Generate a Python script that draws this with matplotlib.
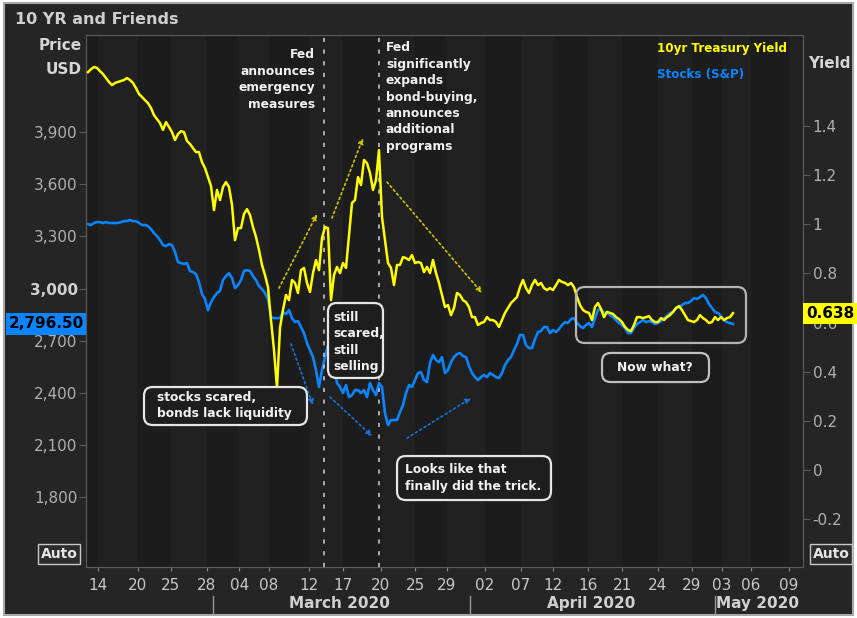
import numpy as np
import matplotlib.pyplot as plt
from matplotlib.patches import FancyBboxPatch, Rectangle
from matplotlib.transforms import blended_transform_factory

# samples are on a regular grid in trading days counted from Fri Feb 14 2020
t_start = -0.797
t_step = 0.2657

spx = [3371, 3365, 3377, 3382, 3382, 3377, 3382, 3377, 3377, 3377,
       3377, 3382, 3388, 3388, 3394, 3388, 3388, 3377, 3365, 3365,
       3359, 3342, 3319, 3302, 3279, 3250, 3244, 3256, 3250, 3210,
       3152, 3147, 3141, 3147, 3101, 3095, 3083, 3037, 2968, 2940,
       2876, 2922, 2951, 2974, 2986, 3049, 3072, 3089, 3060, 3003,
       3020, 3049, 3101, 3106, 3101, 3072, 3049, 3014, 2997, 2974,
       2940, 2836, 2830, 2830, 2830, 2865, 2853, 2876, 2830, 2807,
       2813, 2779, 2744, 2687, 2646, 2606, 2531, 2434, 2531, 2606,
       2675, 2629, 2549, 2457, 2434, 2399, 2445, 2376, 2387, 2416,
       2416, 2399, 2416, 2376, 2457, 2416, 2387, 2457, 2434, 2284,
       2215, 2244, 2244, 2244, 2290, 2330, 2399, 2445, 2434, 2474,
       2514, 2520, 2474, 2462, 2572, 2618, 2589, 2577, 2606, 2514,
       2531, 2577, 2606, 2623, 2629, 2612, 2606, 2554, 2514, 2491,
       2474, 2491, 2503, 2491, 2514, 2503, 2491, 2485, 2514, 2560,
       2589, 2606, 2646, 2681, 2733, 2733, 2675, 2658, 2658, 2710,
       2750, 2756, 2779, 2779, 2744, 2761, 2750, 2767, 2790, 2807,
       2802, 2825, 2830, 2802, 2784, 2773, 2790, 2802, 2779, 2830,
       2876, 2882, 2859, 2865, 2848, 2836, 2819, 2802, 2790, 2773,
       2744, 2744, 2773, 2796, 2807, 2819, 2807, 2813, 2807, 2796,
       2802, 2813, 2830, 2842, 2859, 2865, 2888, 2894, 2905, 2917,
       2917, 2928, 2945, 2940, 2951, 2963, 2945, 2911, 2888, 2865,
       2859, 2842, 2819, 2807, 2802, 2796.50]

yld = [1.618, 1.630, 1.639, 1.635, 1.622, 1.610, 1.594, 1.578, 1.565, 1.574,
       1.578, 1.582, 1.586, 1.594, 1.586, 1.574, 1.553, 1.529, 1.517, 1.504,
       1.492, 1.472, 1.443, 1.427, 1.411, 1.383, 1.415, 1.395, 1.374, 1.342,
       1.366, 1.378, 1.374, 1.338, 1.326, 1.309, 1.293, 1.293, 1.252, 1.228,
       1.191, 1.155, 1.057, 1.139, 1.098, 1.151, 1.171, 1.151, 1.078, 0.935,
       0.984, 0.984, 1.041, 1.061, 1.037, 0.988, 0.948, 0.895, 0.834, 0.793,
       0.744, 0.610, 0.488, 0.334, 0.578, 0.651, 0.712, 0.691, 0.773, 0.761,
       0.720, 0.813, 0.822, 0.761, 0.724, 0.801, 0.854, 0.813, 0.943, 0.988,
       0.984, 0.691, 0.793, 0.826, 0.801, 0.842, 0.822, 0.956, 1.086, 1.098,
       1.191, 1.159, 1.261, 1.248, 1.208, 1.139, 1.179, 1.301, 1.029, 0.935,
       0.842, 0.822, 0.752, 0.834, 0.834, 0.866, 0.862, 0.854, 0.874, 0.842,
       0.846, 0.842, 0.805, 0.826, 0.801, 0.854, 0.801, 0.761, 0.712, 0.663,
       0.671, 0.630, 0.659, 0.720, 0.712, 0.691, 0.683, 0.663, 0.622, 0.622,
       0.590, 0.598, 0.602, 0.622, 0.610, 0.610, 0.602, 0.582, 0.610, 0.639,
       0.659, 0.679, 0.691, 0.704, 0.744, 0.773, 0.740, 0.720, 0.752, 0.773,
       0.752, 0.761, 0.740, 0.732, 0.740, 0.732, 0.752, 0.773, 0.765, 0.761,
       0.752, 0.761, 0.744, 0.704, 0.671, 0.651, 0.643, 0.639, 0.610, 0.663,
       0.679, 0.655, 0.622, 0.643, 0.639, 0.635, 0.622, 0.614, 0.602, 0.582,
       0.570, 0.565, 0.590, 0.622, 0.622, 0.618, 0.622, 0.626, 0.610, 0.602,
       0.602, 0.618, 0.610, 0.622, 0.630, 0.643, 0.659, 0.667, 0.651, 0.630,
       0.610, 0.606, 0.602, 0.610, 0.630, 0.618, 0.610, 0.598, 0.602, 0.622,
       0.610, 0.622, 0.610, 0.618, 0.622, 0.638]

tick_days = [0.09, 3.59, 6.55, 9.70, 12.62, 15.23, 18.78, 21.79, 25.11, 28.17, 31.0,
             34.37, 37.56, 40.39, 43.49, 46.50, 49.65, 52.70, 55.36, 57.93, 61.25]
tick_labels = ['14', '20', '25', '28', '04', '08', '12', '17', '20', '25', '29',
               '02', '07', '12', '16', '21', '24', '29', '03', '06', '09']
month_names = ['March 2020', 'April 2020', 'May 2020']
month_centers = [21.5, 43.8, 58.5]
month_breaks = [10.24, 33.08, 54.76]
fed_days = [20.11, 24.98]

price_ticks = [1800, 2100, 2400, 2700, 3000, 3300, 3600, 3900]
yield_ticks = [-0.2, 0, 0.2, 0.4, 0.6, 0.8, 1.0, 1.2, 1.4]

BLUE = '#0a84ff'
YEL = '#ffff00'
W, H = 857, 618

t = t_start + t_step * np.arange(len(spx))

fig = plt.figure(figsize=(W / 100, H / 100), dpi=100)
fig.patch.set_facecolor('white')
fig.add_artist(Rectangle((4 / W, 3 / H), 849 / W, 612 / H, transform=fig.transFigure,
                         facecolor='#252525', edgecolor='#a8a8a8', lw=1.5, zorder=-10))

ax = fig.add_axes([86 / W, 51 / H, 717 / W, 532 / H])
ax.set_facecolor('#1e1e1e')
ax.set_xlim(-0.974, 62.53)
ax.set_ylim(1399, 4458)

# faint alternating bands between date ticks
edges = [-0.974] + tick_days + [62.53]
for k in range(len(edges) - 1):
    ax.axvspan(edges[k], edges[k + 1], color='#1c1c1c' if k % 2 == 0 else '#212121',
               lw=0, zorder=0)

ax.plot(t, spx, color=BLUE, lw=1.9, zorder=3)

ax2 = ax.twinx()
ax2.set_ylim(-0.394, 1.769)
ax2.plot(t, yld, color=YEL, lw=1.8, zorder=3)

for d in fed_days:
    ax2.axvline(d, color='#c4c4c4', lw=1.2, ls=(0, (2.5, 4.5)), zorder=2)

for a in (ax, ax2):
    for s in a.spines.values():
        s.set_color('#5a5a5a')

ax.set_yticks(price_ticks)
ax.set_yticklabels([f'{v:,}' for v in price_ticks])
ax.tick_params(axis='y', colors='#5a5a5a', labelcolor='#b0b0b0', length=5, pad=1,
               labelsize=11)
for lab in ax.get_yticklabels():
    if lab.get_text() == '3,000':
        lab.set_fontweight('bold')
        lab.set_color('#d0d0d0')

ax2.set_yticks(yield_ticks)
ax2.set_yticklabels([f'{v:g}' for v in yield_ticks])
ax2.tick_params(axis='y', colors='#5a5a5a', labelcolor='#b0b0b0', length=5, pad=2,
                labelsize=11)

ax.set_xticks(tick_days)
ax.set_xticklabels(tick_labels)
ax.tick_params(axis='x', colors='#8a8a8a', labelcolor='#c8c8c8', length=3, pad=5,
               labelsize=11)

bt = blended_transform_factory(ax.transData, ax.transAxes)
for name, c in zip(month_names, month_centers):
    ax.text(c, -0.068, name, transform=bt, ha='center', va='center', fontsize=11,
            fontweight='bold', color='#d0d0d0')
for b in month_breaks:
    ax.plot([b, b], [-0.055, -0.088], transform=bt, color='#9a9a9a', lw=1, clip_on=False)

# titles and axis captions
fig.text(15 / W, 1 - 19 / H, '10 YR and Friends', ha='left', va='center', fontsize=11.5,
         fontweight='bold', color='#cfcfcf')
fig.text(82 / W, 1 - 46 / H, 'Price', ha='right', va='center', fontsize=11,
         fontweight='bold', color='#d6d6d6')
fig.text(82 / W, 1 - 70 / H, 'USD', ha='right', va='center', fontsize=11,
         fontweight='bold', color='#d6d6d6')
fig.text(808 / W, 1 - 64 / H, 'Yield', ha='left', va='center', fontsize=11,
         fontweight='bold', color='#d6d6d6')
for xc in (59, 831):
    fig.text(xc / W, 1 - 554 / H, 'Auto', ha='center', va='center', fontsize=10,
             fontweight='bold', color='#e6e6e6',
             bbox=dict(boxstyle='square,pad=0.2', fc='#2c2c2c', ec='#c8c8c8', lw=1))

# legend
ax2.text(0.796, 0.9745, '10yr Treasury Yield', transform=ax2.transAxes, ha='left',
         va='center', fontsize=8.6, fontweight='bold', color=YEL)
ax2.text(0.796, 0.9255, 'Stocks (S&P)', transform=ax2.transAxes, ha='left',
         va='center', fontsize=8.6, fontweight='bold', color=BLUE)

# last value tags
ax.text(-0.003, spx[-1], f'{spx[-1]:,.2f}',
        transform=blended_transform_factory(ax.transAxes, ax.transData),
        ha='right', va='center', fontsize=11, fontweight='bold', color='black',
        bbox=dict(boxstyle='square,pad=0.2', fc=BLUE, ec='none'), zorder=10)
ax2.text(1.004, yld[-1], f'{yld[-1]:.3f}',
         transform=blended_transform_factory(ax2.transAxes, ax2.transData),
         ha='left', va='center', fontsize=11, fontweight='bold', color='black',
         bbox=dict(boxstyle='square,pad=0.2', fc=YEL, ec='none'), zorder=10)

# annotations
note = dict(fontsize=8.8, fontweight='bold', color='#f2f2f2', transform=ax2.transAxes,
            linespacing=1.34, zorder=7)
ax2.text(0.3194, 0.975, 'Fed\nannounces\nemergency\nmeasures', ha='right', va='top',
         multialignment='right', **note)
ax2.text(0.4184, 0.988, 'Fed\nsignificantly\nexpands\nbond-buying,\nannounces\n'
         'additional\nprograms', ha='left', va='top', **note)


def rbox(x0, x1, y0, y1, ec, fc='none'):
    ax2.add_patch(FancyBboxPatch((x0, y0), x1 - x0, y1 - y0,
                                 boxstyle='round,pad=0,rounding_size=0.012',
                                 mutation_aspect=717 / 532, transform=ax2.transAxes,
                                 ec=ec, fc=fc, lw=1.6, zorder=6, clip_on=False))


rbox(0.0809, 0.3082, 0.2669, 0.3383, '#e6e6e6', '#1e1e1e')
ax2.text(0.0997, 0.3035, 'stocks scared,\nbonds lack liquidity', ha='left', va='center',
         **note)
rbox(0.3375, 0.4142, 0.3553, 0.4962, '#e6e6e6', '#1e1e1e')
ax2.text(0.3445, 0.4229, 'still\nscared,\nstill\nselling', ha='left', va='center', **note)
rbox(0.4338, 0.6485, 0.1259, 0.2086, '#e6e6e6', '#1e1e1e')
ax2.text(0.4449, 0.1673, 'Looks like that\nfinally did the trick.', ha='left',
         va='center', **note)
rbox(0.6834, 0.9205, 0.4211, 0.5263, '#b4b4b4')
rbox(0.7197, 0.8689, 0.3477, 0.4023, '#c0c0c0', '#1e1e1e')
ax2.text(0.7936, 0.3759, 'Now what?', ha='center', va='center', **note)

# dotted trend arrows
yarrows = [((16.12, 0.740), (19.49, 1.041)),
           ((20.81, 1.025), (23.56, 1.350)),
           ((25.69, 1.171), (34.10, 0.720))]
for a0, a1 in yarrows:
    ax2.annotate('', xy=a1, xytext=a0, zorder=4,
                 arrowprops=dict(arrowstyle='-|>', color='#c8c800', lw=1.2,
                                 ls=(0, (1.2, 1.8)), mutation_scale=8,
                                 shrinkA=0, shrinkB=0))
barrows = [((17.18, 2681), (19.13, 2330)),
           ((20.64, 2376), (24.36, 2152)),
           ((27.46, 2140), (33.13, 2370))]
for a0, a1 in barrows:
    ax.annotate('', xy=a1, xytext=a0, zorder=4,
                arrowprops=dict(arrowstyle='-|>', color='#1a72d6', lw=1.2,
                                ls=(0, (1.2, 1.8)), mutation_scale=8,
                                shrinkA=0, shrinkB=0))

plt.savefig('out.png', dpi=100)
plt.close()
